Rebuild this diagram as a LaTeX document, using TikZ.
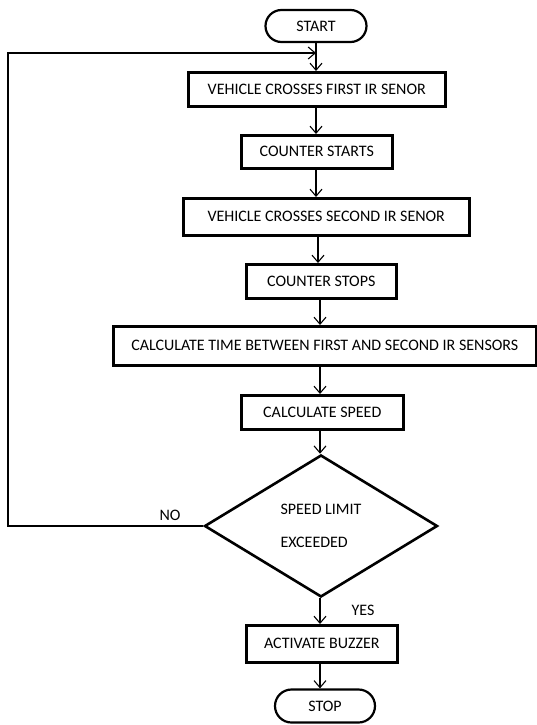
\documentclass[tikz,border=0pt]{standalone}
\usepackage{fontspec}
\setmainfont{Carlito}
\usetikzlibrary{shapes.geometric,shapes.misc,arrows.meta}
\begin{document}
\begin{tikzpicture}[x=1pt,y=-1pt,
  font=\fontsize{16}{19}\selectfont,
  procbox/.style={draw,line width=2.6pt,rectangle,inner sep=0pt,anchor=north west},
  term/.style={draw,line width=2.2pt,rounded rectangle,inner sep=0pt},
  arr/.style={line width=1.1pt,-{Straight Barb[length=7pt,width=12pt,line width=1.1pt]}},
  lbl/.style={inner sep=0pt}]
\useasboundingbox (0,0) rectangle (536,725);
% terminals
\node[term,minimum width=101pt,minimum height=32pt] (start) at (316,26) {START};
\node[term,minimum width=100pt,minimum height=33pt] (stop) at (325,706) {STOP};
% process boxes
\node[procbox,minimum width=257pt,minimum height=34pt] (b1) at (187,71) {VEHICLE CROSSES FIRST IR SENOR};
\node[procbox,minimum width=151pt,minimum height=33pt] (b2) at (240,134) {COUNTER STARTS};
\node[procbox,minimum width=286pt,minimum height=37pt] (b3) at (182,197) {VEHICLE CROSSES SECOND IR SENOR};
\node[procbox,minimum width=150pt,minimum height=34pt] (b4) at (245,263) {COUNTER STOPS};
\node[procbox,minimum width=423pt,minimum height=39pt] (b5) at (112,325) {CALCULATE TIME BETWEEN FIRST AND SECOND IR SENSORS};
\node[procbox,minimum width=162pt,minimum height=34pt] (b6) at (240,394) {CALCULATE SPEED};
\node[draw,line width=2.6pt,diamond,minimum width=233pt,minimum height=142pt,inner sep=0pt,align=left] (d) at (321,526) {SPEED LIMIT\\[14pt]EXCEEDED};
\node[procbox,minimum width=151pt,minimum height=37pt] (b7) at (245,624) {ACTIVATE BUZZER};
% labels
\node[lbl] (no) at (170,515) {NO};
\node[lbl] (yes) at (363,610) {YES};
% arrow column coordinates
\coordinate (J) at (316,53);
\coordinate (c1) at (316,0);
\coordinate (c2) at (318,0);
\coordinate (c3) at (320,0);
\coordinate (L) at (8,0);
% connectors
\draw[arr] (start.south) -- (start.south |- b1.north);
\draw[arr] (b1.south -| c1) -- (b2.north -| c1);
\draw[arr] (b2.south -| c1) -- (b3.north -| c1);
\draw[arr] (b3.south -| c2) -- (b4.north -| c2);
\draw[arr] (b4.south -| c3) -- (b5.north -| c3);
\draw[arr] (b5.south -| c3) -- (b6.north -| c3);
\draw[arr] (b6.south -| c3) -- (d.north -| c3);
\draw[arr] (d.south -| c3) -- (b7.north -| c3);
\draw[arr] (b7.south -| c3) -- (stop.north -| c3);
\draw[arr] (d.west) -- (d.west -| L) -- (J -| L) -- (J);
\end{tikzpicture}
\end{document}
